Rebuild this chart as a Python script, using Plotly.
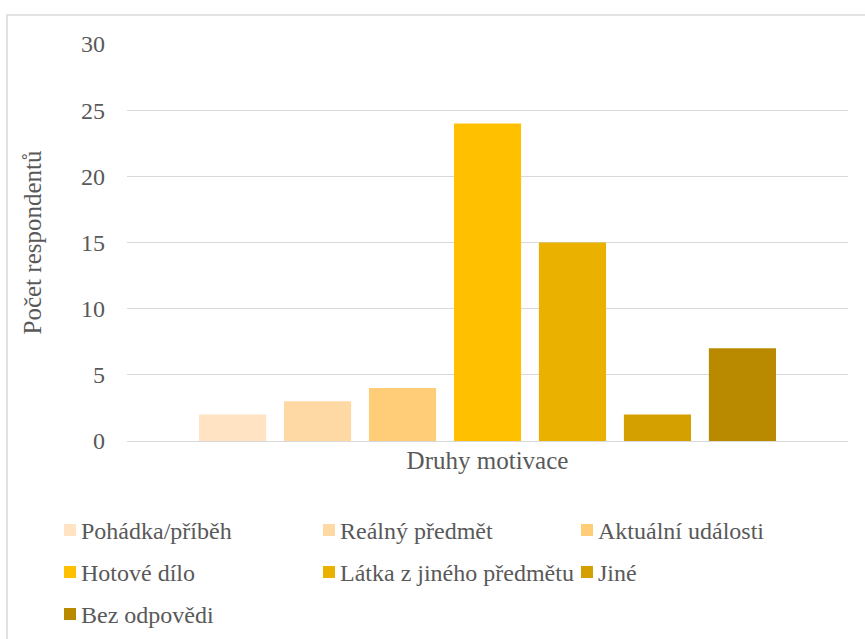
import plotly.graph_objects as go

# Responses by type of motivation
categories = ["Pohádka/příběh", "Reálný předmět", "Aktuální události",
              "Hotové dílo", "Látka z jiného předmětu", "Jiné", "Bez odpovědi"]
counts = [2, 3, 4, 24, 15, 2, 7]
colors = ["#FFE3C3", "#FFD9A3", "#FFCC77", "#FFC000",
          "#EAB100", "#D4A000", "#B98A00"]
group_label = "Druhy motivace"
y_ticks = [0, 5, 10, 15, 20, 25, 30]

FONT = "Liberation Serif"
GREY = "#595959"

fig = go.Figure()
for name, val, col in zip(categories, counts, colors):
    fig.add_trace(go.Bar(x=[group_label], y=[val], name=name,
                         marker=dict(color=col, line=dict(width=0))))

W, H = 865, 639
L, R, T, B = 127, 17, 44, 198
pw, ph = W - L - R, H - T - B


def px_x(x):
    return (x - L) / pw


def px_y(y):
    return (T + ph - y) / ph


# Legend laid out in three columns below the plot
col_x = [64, 323, 581]
row_y = [530, 572, 614]
sq = 12
shapes = [dict(type="rect", xref="paper", yref="paper",
               x0=px_x(7), x1=px_x(W + 5), y0=px_y(H + 5), y1=px_y(15),
               line=dict(color="#D9D9D9", width=1.5),
               fillcolor="rgba(0,0,0,0)", layer="below")]
annotations = []
for i, (name, col) in enumerate(zip(categories, colors)):
    cx, cy = col_x[i % 3], row_y[i // 3]
    shapes.append(dict(type="rect", xref="paper", yref="paper",
                       x0=px_x(cx), x1=px_x(cx + sq),
                       y0=px_y(cy + sq / 2), y1=px_y(cy - sq / 2),
                       line=dict(width=0), fillcolor=col))
    annotations.append(dict(text=name, xref="paper", yref="paper",
                            x=px_x(cx + sq + 3), y=px_y(cy + 1),
                            xanchor="left", yanchor="middle", showarrow=False,
                            font=dict(family=FONT, size=24, color=GREY)))

fig.update_layout(
    template="none",
    width=W, height=H,
    margin=dict(l=L, r=R, t=T, b=B),
    paper_bgcolor="white", plot_bgcolor="white",
    barmode="group", bargap=0.175, bargroupgap=0.21,
    font=dict(family=FONT, color=GREY, size=24),
    showlegend=False,
    xaxis=dict(showticklabels=False, ticks="", showgrid=False,
               showline=True, linecolor="#D9D9D9", linewidth=1,
               title=dict(text=group_label,
                          font=dict(family=FONT, size=25, color=GREY),
                          standoff=10)),
    yaxis=dict(range=[0, 30], tickvals=y_ticks, showgrid=True,
               gridcolor="#D9D9D9", gridwidth=1, zeroline=False,
               showline=False, ticks="", ticklabelstandoff=21,
               tickfont=dict(family=FONT, size=24, color=GREY),
               title=dict(text="Počet respondentů",
                          font=dict(family=FONT, size=25, color=GREY),
                          standoff=32)),
    shapes=shapes,
    annotations=annotations,
)

fig.write_html("out.html")
